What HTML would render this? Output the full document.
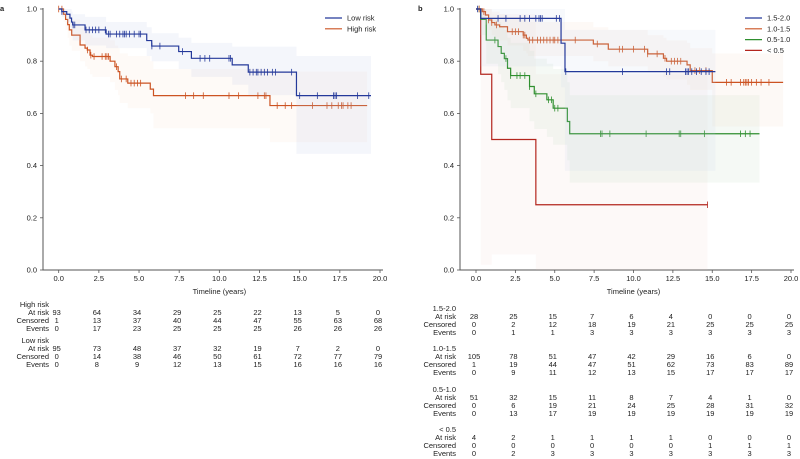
<!DOCTYPE html>
<html><head><meta charset="utf-8"><style>
body{margin:0;background:#fff;}
svg{display:block;font-family:"Liberation Sans",sans-serif;}
text{font-size:7.5px;fill:#222;}
</style></head><body>
<svg id="s" width="800" height="459" viewBox="0 0 800 459"></svg>
<script>
// ---------- Panel a data ----------
const aTicks=[0,2.5,5,7.5,10,12.5,15,17.5,20];
const aTickLabels=["0.0","2.5","5.0","7.5","10.0","12.5","15.0","17.5","20.0"];
const yTicks=[0,0.2,0.4,0.6,0.8,1.0];
const yTickLabels=["0.0","0.2","0.4","0.6","0.8","1.0"];
const lowT=[0,0.19,0.5,0.7,0.8,0.87,1.64,2.95,5.48,5.79,7.47,8.26,10.8,11.8,14.8];
const lowS=[1,0.99,0.98,0.965,0.95,0.939,0.92,0.904,0.879,0.858,0.837,0.811,0.786,0.758,0.668];
const lowLo=[1,0.97,0.95,0.93,0.9,0.88,0.86,0.85,0.82,0.8,0.77,0.74,0.71,0.67,0.445];
const lowHi=[1,1,1,1,0.99,0.98,0.97,0.95,0.93,0.907,0.89,0.87,0.856,0.856,0.82];
const lowEnd=19.44;
const lowCens=[0.2,0.9,1.0,1.7,1.9,2.1,2.3,2.5,2.9,3.1,3.2,3.6,3.8,4.0,4.1,4.2,4.4,4.7,5.0,5.1,5.8,6.3,7.7,8.8,9.1,9.4,10.6,10.7,11.9,12.1,12.3,12.4,12.6,12.8,13.0,13.3,13.5,14.5,15.0,16.1,17.1,17.2,17.3,18.6,19.3];
const highT=[0,0.3,0.43,0.56,0.66,0.81,1.33,1.64,1.78,1.95,2.1,3.2,3.5,3.7,3.8,4.3,5.7,5.9,13.15];
const highS=[1,0.98,0.96,0.94,0.92,0.9,0.862,0.85,0.843,0.823,0.818,0.8,0.779,0.76,0.732,0.716,0.693,0.668,0.63];
const highLo=[1,0.95,0.92,0.89,0.86,0.84,0.8,0.78,0.77,0.75,0.74,0.72,0.69,0.67,0.64,0.62,0.6,0.543,0.49];
const highHi=[1,1,0.99,0.98,0.97,0.96,0.93,0.92,0.91,0.9,0.89,0.88,0.86,0.85,0.83,0.82,0.8,0.77,0.76];
const highEnd=19.2;
const highCens=[0,0.2,1.8,2.0,2.2,2.7,2.9,3.0,3.1,3.6,3.9,4.2,4.5,4.7,4.9,5.1,7.9,8.4,9.0,10.6,11.2,12.4,12.8,12.9,13.6,14.1,14.5,15.8,16.7,17.0,17.4,17.6,17.7,18.0,18.2];
// ---------- Panel b data ----------
const b1T=[0,0.3,5.4,5.65];
const b1S=[1,0.964,0.869,0.76];
const b1Lo=[1,0.78,0.7,0.38];
const b1Hi=[1,1,1,0.92];
const b1End=15.2;
const b1Cens=[0.1,1.4,1.9,2.8,3.1,3.4,3.8,4.0,4.1,4.2,5.1,5.3,5.7,9.3,12.1,12.3,13.3,13.4,13.5,13.7,14.0,14.3,14.6,14.8];
const b2T=[0,0.4,0.6,0.8,1.0,1.2,1.5,2.0,3.0,3.2,3.3,7.45,8.4,10.9,11.9,12.1,13.4,13.6,15.0];
const b2S=[1,0.99,0.977,0.958,0.948,0.939,0.932,0.913,0.9,0.888,0.881,0.866,0.846,0.828,0.811,0.8,0.786,0.764,0.719];
const b2Lo=[1,0.96,0.94,0.92,0.9,0.89,0.88,0.86,0.84,0.83,0.82,0.8,0.78,0.76,0.74,0.73,0.71,0.69,0.55];
const b2Hi=[1,1,1,1,0.99,0.99,0.98,0.97,0.96,0.95,0.95,0.93,0.92,0.9,0.89,0.88,0.87,0.85,0.83];
const b2End=19.5;
const b2Cens=[0.2,0.5,0.8,1.0,1.3,2.3,2.5,2.7,3.0,3.1,3.4,3.6,3.9,4.1,4.3,4.5,4.7,4.9,5.0,5.2,5.4,6.3,7.7,9.1,9.3,10.0,10.7,10.9,11.5,12.0,12.4,12.6,12.8,13.0,13.9,14.2,14.6,15.9,16.2,16.8,17.0,17.1,17.2,17.3,17.5,17.8,18.1,18.6];
const b3T=[0,0.3,0.65,1.4,1.6,1.8,2.0,2.2,3.4,3.7,4.5,4.9,5.8,5.95];
const b3S=[1,0.96,0.881,0.856,0.83,0.81,0.773,0.745,0.703,0.675,0.652,0.62,0.569,0.522];
const b3Lo=[1,0.9,0.79,0.75,0.72,0.69,0.65,0.62,0.57,0.54,0.51,0.48,0.42,0.335];
const b3Hi=[1,1,0.96,0.95,0.93,0.92,0.89,0.87,0.84,0.81,0.79,0.77,0.72,0.67];
const b3End=18;
const b3Cens=[0.2,1.2,1.9,2.2,2.6,2.8,3.1,3.4,3.8,4.6,4.8,5.0,5.2,7.9,8.0,8.5,10.8,12.9,13.0,14.5,16.8,17.1,17.4];
const b4T=[0,0.3,1.0,3.8];
const b4S=[1,0.75,0.5,0.25];
const b4Lo=[1,0.02,0.06,0.0];
const b4Hi=[1,1,0.98,0.75];
const b4End=14.7;
const b4Cens=[14.7];
// ---------- Tables ----------
const aRowLabels=["At risk","Censored","Events"];
const aHighRows=[[93,64,34,29,25,22,13,5,0],[1,13,37,40,44,47,55,63,68],[0,17,23,25,25,25,26,26,26]];
const aLowRows=[[95,73,48,37,32,19,7,2,0],[0,14,38,46,50,61,72,77,79],[0,8,9,12,13,15,16,16,16]];
const bGroups=["1.5-2.0","1.0-1.5","0.5-1.0","< 0.5"];
const bRows=[
 [[28,25,15,7,6,4,0,0,0],[0,2,12,18,19,21,25,25,25],[0,1,1,3,3,3,3,3,3]],
 [[105,78,51,47,42,29,16,6,0],[1,19,44,47,51,62,73,83,89],[0,9,11,12,13,15,17,17,17]],
 [[51,32,15,11,8,7,4,1,0],[0,6,19,21,24,25,28,31,32],[0,13,17,19,19,19,19,19,19]],
 [[4,2,1,1,1,1,0,0,0],[0,0,0,0,0,0,1,1,1],[0,2,3,3,3,3,3,3,3]]];

const NS="http://www.w3.org/2000/svg";
const svg=document.getElementById('s');
function el(tag,attrs,parent){const e=document.createElementNS(NS,tag);for(const k in attrs)e.setAttribute(k,attrs[k]);(parent||svg).appendChild(e);return e;}
function txt(x,y,s,anchor,parent,extra){const e=el('text',Object.assign({x:x,y:y,'text-anchor':anchor||'start'},extra||{}),parent);e.textContent=s;return e;}

function makePanel(ax){
  const g=el('g',{});
  
  
  const X=t=>ax.x0+(t/20)*(ax.x1-ax.x0);
  const Y=s=>ax.y0+(1-s)*(ax.y1-ax.y0);
  ax.X=X;ax.Y=Y;
  const axl=el('path',{d:`M${ax.axisX},${ax.y0-1}V${ax.y1}H${X(20)+3}`,fill:'none',stroke:'#555','stroke-width':1},g);
  
  
  yTicks.forEach((v,i)=>{
    el('line',{x1:ax.axisX-3,x2:ax.axisX,y1:Y(v),y2:Y(v),stroke:'#555','stroke-width':0.8},g);
    const t=txt(ax.axisX-6,Y(v)+2.5,yTickLabels[i],'end',g);
    
    
  });
  aTicks.forEach((v,i)=>{
    el('line',{x1:X(v),x2:X(v),y1:ax.y1,y2:ax.y1+3,stroke:'#555','stroke-width':0.8},g);
    const t=txt(X(v),ax.y1+11,aTickLabels[i],'middle',g);
    
    
  });
  const xt=txt((X(0)+X(20))/2,ax.y1+24,'Timeline (years)','middle',g,{'font-size':'8px'});
  
  
  return g;
}
function stepPath(X,Y,T,S,end){let d=`M${X(T[0])},${Y(S[0])}`;for(let i=1;i<T.length;i++)d+=`H${X(T[i])}V${Y(S[i])}`;d+=`H${X(end)}`;return d;}
function band(X,Y,T,lo,hi,end){
  let d=`M${X(T[0])},${Y(hi[0])}`;
  for(let i=1;i<T.length;i++)d+=`H${X(T[i])}V${Y(hi[i])}`;
  d+=`H${X(end)}V${Y(lo[lo.length-1])}`;
  for(let i=T.length-1;i>=1;i--)d+=`H${X(T[i])}V${Y(lo[i-1])}`;
  d+=`H${X(T[0])}Z`;return d;
}
function survAt(T,S,t){let s=S[0];for(let i=0;i<T.length;i++)if(T[i]<=t)s=S[i];return s;}
function series(g,ax,name,T,S,lo,hi,end,cens,color,fill,op){
  const X=ax.X,Y=ax.Y;
  const b=el('path',{d:band(X,Y,T,lo,hi,end),fill:fill,'fill-opacity':op,stroke:'none'},g);
  
  
  const p=el('path',{d:stepPath(X,Y,T,S,end),fill:'none',stroke:color,'stroke-width':1.2},g);
  
  
  cens.forEach(c=>{
    const y=Y(survAt(T,S,c));
    const m=el('line',{x1:X(c),x2:X(c),y1:y-3.3,y2:y+3.3,stroke:color,'stroke-width':0.8},g);
    
    
  });
}
function legend(g,x,y,items){
  items.forEach((it,i)=>{
    const yy=y+i*10.8;
    const l=el('line',{x1:x,x2:x+17,y1:yy,y2:yy,stroke:it[1],'stroke-width':1.2},g);
    
    
    const t=txt(x+22,yy+2.6,it[0],'start',g);
    
    
  });
}
const BLUE='#24399a',ORANGE='#cc5322',GREEN='#2f8f2f',RED='#b3261e';
// Panel a
const A={name:'panel-a',x0:58.7,x1:380,y0:9,y1:270,axisX:43};
const ga=makePanel(A);
series(ga,A,'high-risk',highT,highS,highLo,highHi,highEnd,highCens,ORANGE,'#f7d9c4',0.14);
series(ga,A,'low-risk',lowT,lowS,lowLo,lowHi,lowEnd,lowCens,BLUE,'#b8c4e6',0.15);
legend(ga,325,18,[['Low risk',BLUE],['High risk',ORANGE]]);
const la=txt(0,11,'a','start',svg,{'font-weight':'bold','font-size':'9px'});


// Panel b
const B={name:'panel-b',x0:476,x1:791,y0:9,y1:270,axisX:460};
const gb=makePanel(B);
series(gb,B,'lt-0.5',b4T,b4S,b4Lo,b4Hi,b4End,b4Cens,RED,'#f0c8c0',0.11);
series(gb,B,'0.5-1.0',b3T,b3S,b3Lo,b3Hi,b3End,b3Cens,GREEN,'#c8dcc8',0.18);
series(gb,B,'1.0-1.5',b2T,b2S,b2Lo,b2Hi,b2End,b2Cens,ORANGE,'#f3d6c4',0.15);
series(gb,B,'1.5-2.0',b1T,b1S,b1Lo,b1Hi,b1End,b1Cens,BLUE,'#c4cde8',0.13);
legend(gb,745,18,[['1.5-2.0',BLUE],['1.0-1.5',ORANGE],['0.5-1.0',GREEN],['< 0.5',RED]]);
const lb=txt(418,11,'b','start',svg,{'font-weight':'bold','font-size':'9px'});


// Tables
function table(ax,labelX,group,rows,y){
  const g=el('g',{});
  
  
  txt(labelX,y,group,'end',g);
  rows.forEach((r,ri)=>{
    const yy=y+8*(ri+1);
    txt(labelX,yy,aRowLabels[ri],'end',g);
    r.forEach((v,ci)=>{
      const t=txt(ax.X(aTicks[ci])-2,yy,String(v),'middle',g);
      
      
    });
  });
}
table(A,49,'High risk',aHighRows,307);
table(A,49,'Low risk',aLowRows,343);
const bY=[311,351,392,432];
bGroups.forEach((gname,i)=>table(B,456,gname,bRows[i],bY[i]));
</script>
</body></html>
